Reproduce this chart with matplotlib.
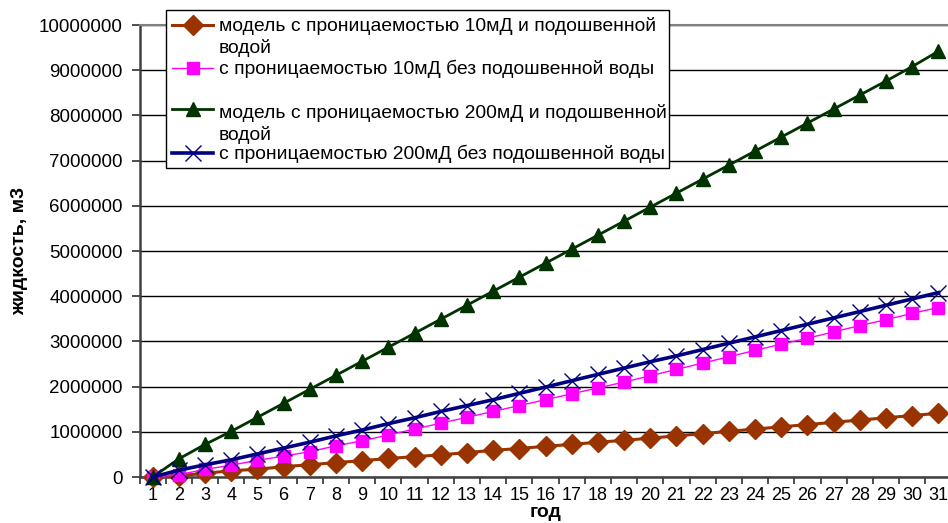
import numpy as np
import matplotlib
matplotlib.use("Agg")
import matplotlib.pyplot as plt
from matplotlib.lines import Line2D
from matplotlib.patches import Rectangle

plt.rcParams['font.family'] = ['Liberation Sans', 'DejaVu Sans']

# годы расчёта
years = list(range(1, 32))

# накопленная добыча жидкости, млн м3
k10_water = [0, 0.03, 0.08, 0.14, 0.17, 0.23, 0.27, 0.32, 0.36, 0.41, 0.45, 0.49, 0.54, 0.59, 0.63, 0.68,
             0.72, 0.77, 0.81, 0.86, 0.91, 0.96, 1.01, 1.06, 1.11, 1.16, 1.21, 1.26, 1.31, 1.36, 1.41]
k10_dry = [0, 0.05, 0.17, 0.26, 0.37, 0.46, 0.56, 0.69, 0.80, 0.93, 1.06, 1.19, 1.32, 1.45, 1.58, 1.71,
           1.84, 1.97, 2.10, 2.24, 2.38, 2.52, 2.66, 2.80, 2.94, 3.07, 3.21, 3.35, 3.48, 3.62, 3.75]
k200_water = [0, 0.40, 0.72, 1.01, 1.32, 1.63, 1.94, 2.25, 2.56, 2.87, 3.18, 3.49, 3.80, 4.11, 4.42, 4.73,
              5.04, 5.35, 5.66, 5.97, 6.28, 6.59, 6.90, 7.21, 7.52, 7.83, 8.14, 8.45, 8.76, 9.08, 9.42]
k200_dry = [0, 0.15, 0.27, 0.38, 0.51, 0.64, 0.77, 0.91, 1.04, 1.18, 1.31, 1.45, 1.58, 1.71, 1.85, 1.99,
            2.13, 2.27, 2.41, 2.55, 2.68, 2.82, 2.96, 3.10, 3.24, 3.38, 3.52, 3.66, 3.80, 3.94, 4.08]

labels = ['модель с проницаемостью 10мД и подошвенной\nводой',
          'с проницаемостью 10мД без подошвенной воды',
          'модель с проницаемостью 200мД и подошвенной\nводой',
          'с проницаемостью 200мД без подошвенной воды']
y_ticks = [0, 1000000, 2000000, 3000000, 4000000, 5000000, 6000000, 7000000, 8000000, 9000000, 10000000]

W, H = 948, 523
fig = plt.figure(figsize=(W / 100, H / 100), dpi=100)
ax = fig.add_axes([139.5 / W, 46 / H, 812 / W, 452 / H])

styles = [
    dict(color='#993300', lw=2.2, marker='D', ms=10, mec='#993300'),
    dict(color='#FF00FF', lw=1.0, marker='s', ms=8.5, mec='#FF00FF'),
    dict(color='#003300', lw=2.0, marker='^', ms=9.5, mec='#003300'),
    dict(color='#000080', lw=2.6, marker='x', ms=11, mew=1.0, mec='#000080'),
]
series = [k10_water, k10_dry, k200_water, k200_dry]
for vals, st in zip(series, styles):
    ax.plot(years, np.array(vals) * 1e6, zorder=3, clip_on=False, **st)

ax.set_xlim(0.5, 31.5)
ax.set_ylim(0, 10000000)
ax.set_yticks(y_ticks)
ax.set_yticklabels([str(v) for v in y_ticks], fontsize=13.5)
ax.set_xticks(years)
ax.set_xticklabels([str(y) for y in years], fontsize=13)
ax.set_xticks(np.arange(0.5, 32, 1), minor=True)
ax.tick_params(axis='x', which='major', length=0, pad=7)
ax.tick_params(axis='x', which='minor', length=5, width=1.3, color='#404040', direction='out')
ax.tick_params(axis='y', length=6, width=1.3, color='#404040', direction='out', pad=6)
ax.grid(axis='y', color='black', lw=1.0, zorder=1)

for side in ['left', 'bottom']:
    ax.spines[side].set_color('#404040')
    ax.spines[side].set_linewidth(1.8)
ax.spines['right'].set_visible(False)
ax.spines['top'].set_color('#808080')
ax.spines['top'].set_linewidth(1.5)

ax.set_xlabel('год', fontsize=14, fontweight='bold', labelpad=0)
ax.set_ylabel('жидкость, м3', fontsize=14, fontweight='bold', labelpad=8)


# легенда в пикселях фигуры
def px(x, y):
    return x / W, 1 - y / H


x0, y0 = px(165.5, 167.5)
x1, y1 = px(668.5, 10)
fig.patches.append(Rectangle((x0, y0), x1 - x0, y1 - y0, transform=fig.transFigure,
                             facecolor='white', edgecolor='black', lw=1.0, zorder=5))
handle_rows = [25, 68, 109, 153]
text_rows = [26, 69, 112.5, 154]
for lab, st, hy_px, ty_px in zip(labels, styles, handle_rows, text_rows):
    hx0, hy = px(172, hy_px)
    hx1, _ = px(213, hy_px)
    mx, _ = px(192.5, hy_px)
    fig.add_artist(Line2D([hx0, hx1], [hy, hy], color=st['color'], lw=st['lw'],
                          transform=fig.transFigure, zorder=6))
    fig.add_artist(Line2D([mx], [hy], color=st['color'], marker=st['marker'], ms=st['ms'],
                          mec=st['mec'], mew=st.get('mew', 1.0), lw=0,
                          transform=fig.transFigure, zorder=6))
    tx, ty = px(219, ty_px - 9)
    fig.text(tx, ty, lab, fontsize=13.9, va='top', ha='left', linespacing=1.32, zorder=7)

fig.savefig('out.png', dpi=100)
